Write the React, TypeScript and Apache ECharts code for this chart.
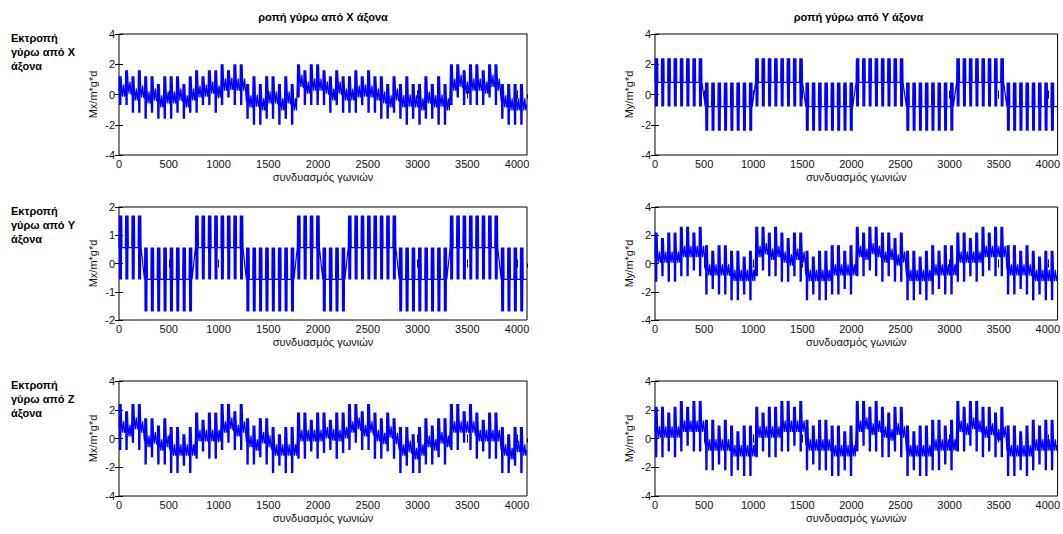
import React, { useEffect, useRef } from "react";
import * as echarts from "echarts";

// stroke spacing (samples) and x range
const STEP = 64;
const X_MAX = 4100;
const X_TICKS = [0, 500, 1000, 1500, 2000, 2500, 3000, 3500, 4000];

const TITLES = ["ροπή γύρω από X άξονα", "ροπή γύρω από Y άξονα"];
const ROW_LABELS = ["Εκτροπή\nγύρω από X\nάξονα", "Εκτροπή\nγύρω από Y\nάξονα", "Εκτροπή\nγύρω από Z\nάξονα"];
const X_NAME = "συνδυασμός γωνιών";
const Y_NAMES = ["Mx/m*g*d", "My/m*g*d", "Mx/m*g*d", "My/m*g*d", "Mx/m*g*d", "My/m*g*d"];
const Y_RANGES = [[-4, 4, 2], [-4, 4, 2], [-2, 2, 1], [-4, 4, 2], [-4, 4, 2], [-4, 4, 2]];

// Per-stroke envelope (high / low) every 64 samples
const TL_HI = [1.2,1.6,1.2,1.6, 1.2,1.2,0.7,1.2, 1.2,1.2,0.7,1.2, 1.6,1.2,1.6,1.6, 2.0,1.6,2.0,2.0, 0.7,1.2,0.7,1.2, 1.2,0.7,1.2,0.7, 2.0,1.6,2.0,2.0, 1.6,1.2,1.6,1.2, 1.2,1.6,1.2,1.6, 1.2,1.2,0.7,1.2, 0.7,1.2,0.7,0.7, 1.2,0.7,1.2,0.7, 2.0,2.0,1.6,2.0, 2.0,1.6,2.0,2.0, 0.7,0.7,0.7,0.7];
const TL_LO = [-0.7,-0.7,-1.2,-1.2, -1.6,-1.2,-1.6,-1.6, -1.6,-1.2,-1.6,-1.2, -1.2,-0.7,-0.7,-1.2, -0.7,-0.2,-0.7,-0.7, -1.6,-2.0,-2.0,-1.6, -1.6,-2.0,-1.6,-2.0, -0.2,-0.7,-0.7,-0.7, -0.7,-1.2,-0.7,-1.2, -1.2,-1.2,-0.7,-1.2, -1.2,-1.6,-1.6,-1.2, -1.6,-2.0,-1.6,-2.0, -1.6,-1.6,-2.0,-2.0, -0.7,-0.2,-0.7,-0.7, -0.7,-0.7,-0.2,-0.7, -1.6,-2.0,-2.0,-2.0];

const TR_HI = [2.4,2.4,2.4,2.4,2.4,2.4,2.4,2.4, 0.8,0.8,0.8,0.8,0.8,0.8,0.8,0.8, 2.4,2.4,2.4,2.4,2.4,2.4,2.4,2.4, 0.8,0.8,0.8,0.8,0.8,0.8,0.8,0.8, 2.4,2.4,2.4,2.4,2.4,2.4,2.4,2.4, 0.8,0.8,0.8,0.8,0.8,0.8,0.8,0.8, 2.4,2.4,2.4,2.4,2.4,2.4,2.4,2.4, 0.8,0.8,0.8,0.8,0.8,0.8,0.8,0.8];
const TR_LO = [-0.8,-0.8,-0.8,-0.8,-0.8,-0.8,-0.8,-0.8, -2.4,-2.4,-2.4,-2.4,-2.4,-2.4,-2.4,-2.4, -0.8,-0.8,-0.8,-0.8,-0.8,-0.8,-0.8,-0.8, -2.4,-2.4,-2.4,-2.4,-2.4,-2.4,-2.4,-2.4, -0.8,-0.8,-0.8,-0.8,-0.8,-0.8,-0.8,-0.8, -2.4,-2.4,-2.4,-2.4,-2.4,-2.4,-2.4,-2.4, -0.8,-0.8,-0.8,-0.8,-0.8,-0.8,-0.8,-0.8, -2.4,-2.4,-2.4,-2.4,-2.4,-2.4,-2.4,-2.4];

const ML_HI = [1.7,1.7,1.7,1.7, 0.57,0.57,0.57,0.57, 0.57,0.57,0.57,0.57, 1.7,1.7,1.7,1.7, 1.7,1.7,1.7,1.7, 0.57,0.57,0.57,0.57, 0.57,0.57,0.57,0.57, 1.7,1.7,1.7,1.7, 0.57,0.57,0.57,0.57, 1.7,1.7,1.7,1.7, 1.7,1.7,1.7,1.7, 0.57,0.57,0.57,0.57, 0.57,0.57,0.57,0.57, 1.7,1.7,1.7,1.7, 1.7,1.7,1.7,1.7, 0.57,0.57,0.57,0.57];
const ML_LO = [-0.57,-0.57,-0.57,-0.57, -1.7,-1.7,-1.7,-1.7, -1.7,-1.7,-1.7,-1.7, -0.57,-0.57,-0.57,-0.57, -0.57,-0.57,-0.57,-0.57, -1.7,-1.7,-1.7,-1.7, -1.7,-1.7,-1.7,-1.7, -0.57,-0.57,-0.57,-0.57, -1.7,-1.7,-1.7,-1.7, -0.57,-0.57,-0.57,-0.57, -0.57,-0.57,-0.57,-0.57, -1.7,-1.7,-1.7,-1.7, -1.7,-1.7,-1.7,-1.7, -0.57,-0.57,-0.57,-0.57, -0.57,-0.57,-0.57,-0.57, -1.7,-1.7,-1.7,-1.7];

const MR_HI = [2.2,1.8,2.2,2.2, 2.6,2.6,2.2,2.6, 1.3,0.9,1.3,1.3, 0.9,0.9,0.5,0.9, 2.6,2.6,2.2,2.6, 2.2,1.8,2.2,2.2, 0.9,0.5,0.9,0.9, 1.3,1.3,0.9,1.3, 2.6,2.2,2.6,2.6, 2.2,2.2,1.8,2.2, 0.9,0.9,0.5,0.9, 1.3,0.9,1.3,1.3, 2.2,2.2,1.8,2.2, 2.6,2.2,2.6,2.6, 1.3,1.3,0.9,1.3, 0.9,0.5,0.9,0.9];
const MR_LO = [-1.3,-0.9,-1.3,-1.3, -0.9,-0.9,-0.5,-0.9, -2.2,-1.8,-2.2,-2.2, -2.6,-2.6,-2.2,-2.6, -0.9,-0.5,-0.9,-0.9, -1.3,-1.3,-0.9,-1.3, -2.6,-2.2,-2.6,-2.6, -2.2,-2.2,-1.8,-2.2, -0.9,-0.9,-0.5,-0.9, -1.3,-0.9,-1.3,-1.3, -2.6,-2.6,-2.2,-2.6, -2.2,-1.8,-2.2,-2.2, -1.3,-1.3,-0.9,-1.3, -0.9,-0.5,-0.9,-0.9, -2.2,-2.2,-1.8,-2.2, -2.6,-2.2,-2.6,-2.6];

const BL_HI = [2.4,1.9,2.4,2.4, 1.4,1.4,0.9,1.4, 0.8,0.8,0.3,0.8, 1.8,1.3,1.8,1.8, 2.4,2.4,1.9,2.4, 1.4,0.9,1.4,1.4, 0.8,0.3,0.8,0.8, 1.8,1.8,1.3,1.8, 1.8,1.3,1.8,1.8, 2.4,2.4,1.9,2.4, 1.8,1.4,1.8,1.4, 0.8,0.8,0.3,0.8, 1.4,0.9,1.4,1.4, 2.4,2.4,1.9,2.4, 1.8,1.3,1.8,1.8, 0.8,0.3,0.8,0.8];
const BL_LO = [-0.8,-0.8,-0.3,-0.8, -1.8,-1.3,-1.8,-1.8, -2.4,-2.4,-1.9,-2.4, -1.4,-0.9,-1.4,-1.4, -0.8,-0.3,-0.8,-0.8, -1.8,-1.8,-1.3,-1.8, -2.4,-1.9,-2.4,-2.4, -1.4,-1.4,-0.9,-1.4, -1.0,-0.8,-1.4,-1.0, -0.8,-0.3,-0.8,-0.8, -1.4,-1.4,-0.9,-1.4, -2.4,-1.9,-2.4,-2.4, -1.8,-1.8,-1.3,-1.8, -0.8,-0.8,-0.3,-0.8, -1.4,-0.9,-1.4,-1.4, -2.4,-2.4,-1.9,-2.4];

const BR_HI = [2.2,2.2,1.8,2.2, 2.6,2.2,2.6,2.6, 1.3,1.3,0.9,1.3, 0.9,0.5,0.9,0.9, 2.2,1.8,2.2,2.2, 2.6,2.6,2.2,2.6, 1.3,0.9,1.3,1.3, 0.9,0.9,0.5,0.9, 2.6,2.6,2.2,2.6, 2.2,1.8,2.2,2.2, 0.9,0.5,0.9,0.9, 1.3,1.3,0.9,1.3, 2.6,2.2,2.6,2.6, 2.2,2.2,1.8,2.2, 0.9,0.9,0.5,0.9, 1.3,0.9,1.3,1.3];
const BR_LO = [-1.3,-1.3,-0.9,-1.3, -0.9,-0.5,-0.9,-0.9, -2.2,-2.2,-1.8,-2.2, -2.6,-2.2,-2.6,-2.6, -1.3,-0.9,-1.3,-1.3, -0.9,-0.9,-0.5,-0.9, -2.2,-1.8,-2.2,-2.2, -2.6,-2.6,-2.2,-2.6, -0.9,-0.5,-0.9,-0.9, -1.3,-1.3,-0.9,-1.3, -2.6,-2.2,-2.6,-2.6, -2.2,-2.2,-1.8,-2.2, -0.9,-0.9,-0.5,-0.9, -1.3,-0.9,-1.3,-1.3, -2.6,-2.6,-2.2,-2.6, -2.2,-1.8,-2.2,-2.2];

// half-width of the band traced between spikes, per panel (0 = a flat line)
const CORE = [0.4, 0, 0, 0.4, 0.4, 0.4];

const PANELS = [
  [TL_HI, TL_LO],
  [TR_HI, TR_LO],
  [ML_HI, ML_LO],
  [MR_HI, MR_LO],
  [BL_HI, BL_LO],
  [BR_HI, BR_LO],
];

const FONT = "'Liberation Sans', Arial, sans-serif";

function buildLine(hi: number[], lo: number[], core: number) {
  const pts: number[][] = [];
  for (let p = 0; p < hi.length; p++) {
    const x0 = p * STEP;
    const mid = (hi[p] + lo[p]) / 2;
    pts.push([x0, mid]);
    if (core === 0) {
      for (let k = 1; k <= 9; k++) pts.push([x0 + k * 3, k % 2 === 1 ? hi[p] : lo[p]]);
      pts.push([x0 + 30, mid]);
    } else {
      for (let k = 1; k <= 7; k++) pts.push([x0 + k * 3, k % 2 === 1 ? hi[p] : lo[p]]);
      for (let x = x0 + 26, k = 0; x < x0 + STEP; x += 10, k++) {
        pts.push([x, k % 2 === 0 ? mid + core : mid - core]);
      }
    }
  }
  const last = hi.length - 1;
  pts.push([hi.length * STEP, (hi[last] + lo[last]) / 2]);
  return pts;
}

export default function App() {
  const ref = useRef<HTMLDivElement>(null);
  useEffect(() => {
    if (!ref.current) return;
    const chart = echarts.init(ref.current, undefined, { renderer: "svg" });
    const lefts = [119, 655];
    const widths = [408, 407];
    const tops = [34, 207, 381];
    const heights = [121, 113, 115];
    const grids: any[] = [];
    const xAxes: any[] = [];
    const yAxes: any[] = [];
    const series: any[] = [];
    for (let i = 0; i < 6; i++) {
      const col = i % 2;
      const row = Math.floor(i / 2);
      grids.push({
        left: lefts[col], top: tops[row], width: widths[col], height: heights[row],
        show: true, borderColor: "#000", borderWidth: 1, containLabel: false,
      });
      const tick = { show: true, inside: true, length: 4, lineStyle: { color: "#000", width: 1 } };
      xAxes.push({
        type: "value", gridIndex: i, position: "bottom", min: 0, max: X_MAX, interval: 500,
        axisLine: { show: false }, axisTick: tick, splitLine: { show: false },
        axisLabel: {
          fontSize: 11, color: "#111", margin: 3, fontFamily: FONT, showMaxLabel: false,
          formatter: (v: number) => (X_TICKS.includes(v) ? String(v) : ""),
        },
        name: X_NAME, nameLocation: "middle", nameGap: 16,
        nameTextStyle: { fontSize: 11, color: "#111", fontFamily: FONT, verticalAlign: "top" },
      });
      xAxes.push({
        type: "value", gridIndex: i, position: "top", min: 0, max: X_MAX, interval: 500,
        axisLine: { show: false }, axisTick: tick, splitLine: { show: false }, axisLabel: { show: false },
      });
      const [ymin, ymax, yint] = Y_RANGES[i];
      yAxes.push({
        type: "value", gridIndex: i, position: "left", min: ymin, max: ymax, interval: yint,
        axisLine: { show: false }, axisTick: tick, splitLine: { show: false },
        axisLabel: { fontSize: 11, color: "#111", margin: 4, fontFamily: FONT },
        name: Y_NAMES[i], nameLocation: "middle", nameGap: 21, nameRotate: 90,
        nameTextStyle: { fontSize: 11, color: "#111", fontFamily: FONT },
      });
      yAxes.push({
        type: "value", gridIndex: i, position: "right", min: ymin, max: ymax, interval: yint,
        axisLine: { show: false }, axisTick: tick, splitLine: { show: false }, axisLabel: { show: false },
      });
      const [hi, lo] = PANELS[i];
      series.push({
        type: "line", xAxisIndex: 2 * i, yAxisIndex: 2 * i, data: buildLine(hi, lo, CORE[i]),
        showSymbol: false, symbol: "none", clip: true,
        lineStyle: { color: "#0000ff", width: 1.2 }, silent: true,
      });
    }
    const graphic: any[] = [];
    TITLES.forEach((t, c) => {
      graphic.push({
        type: "text", x: lefts[c] + widths[c] / 2, y: 17,
        style: { text: t, font: `bold 11px ${FONT}`, fill: "#000", textAlign: "center", textVerticalAlign: "middle", align: "center", verticalAlign: "middle" },
      });
    });
    ROW_LABELS.forEach((t, r) => {
      graphic.push({
        type: "text", x: 11, y: tops[r] - 3,
        style: { text: t, font: `bold 11px ${FONT}`, fill: "#000", lineHeight: 14, textAlign: "left", textVerticalAlign: "top", align: "left", verticalAlign: "top" },
      });
    });
    chart.setOption({
      animation: false,
      backgroundColor: "#fff",
      grid: grids,
      xAxis: xAxes,
      yAxis: yAxes,
      series,
      graphic,
    });
    return () => chart.dispose();
  }, []);
  return (
    <div
      ref={ref}
      style={{ position: "fixed", left: 0, top: 0, width: 1063, height: 534, background: "#fff" }}
    />
  );
}
